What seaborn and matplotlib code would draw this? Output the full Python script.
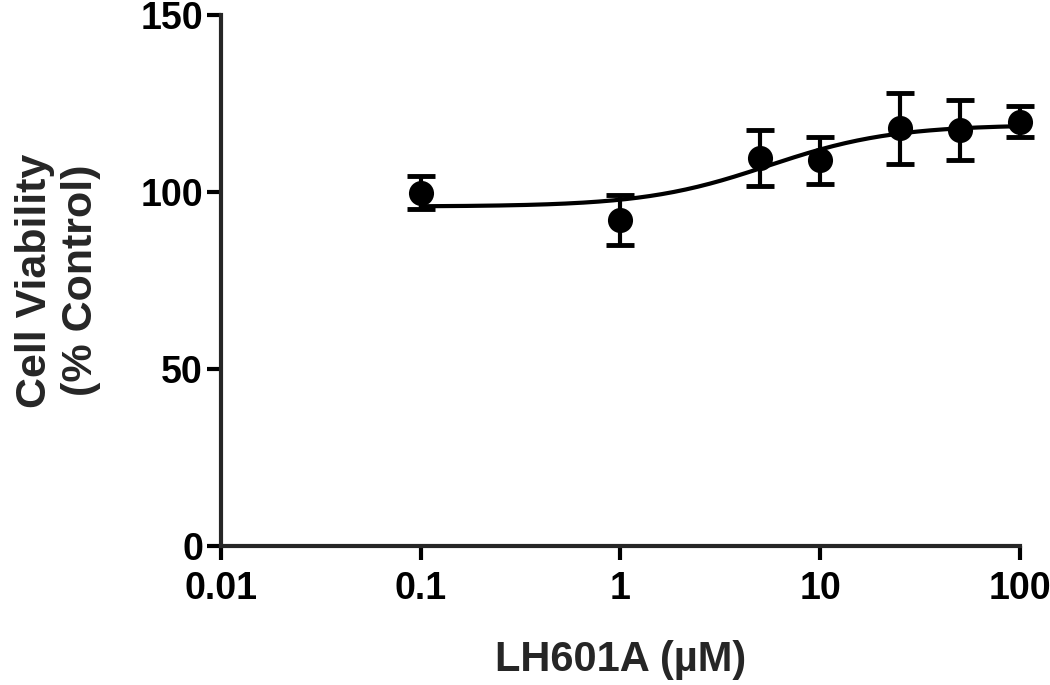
import seaborn as sns
import matplotlib.pyplot as plt
import numpy as np
import pandas as pd

# Data
conc = [0.1, 1, 5, 10, 25, 50, 100]          # LH601A (uM)
viability = [99.8, 92.1, 109.5, 109.0, 118.0, 117.5, 119.9]   # % control
sem = [4.7, 7.0, 7.9, 6.6, 10.0, 8.5, 4.4]

# 4-parameter logistic fit (bottom, top, EC50, hill) as drawn
fit_bottom = 95.9
fit_top = 119.0
fit_ec50 = 5.5
fit_hill = 1.4

sns.set_style("ticks")
plt.rcParams['font.family'] = ['Liberation Sans', 'DejaVu Sans']
plt.rcParams['font.weight'] = 'bold'

df = pd.DataFrame({'conc': conc, 'viability': viability, 'sem': sem})

xs = np.logspace(np.log10(min(conc)), np.log10(max(conc)), 200)
fit = pd.DataFrame({'conc': xs,
                    'viability': fit_bottom + (fit_top - fit_bottom) / (1 + (fit_ec50 / xs) ** fit_hill)})

fig = plt.figure(figsize=(10.5, 6.85), dpi=100)
ax = fig.add_axes([0.2105, 0.203, 0.7609, 0.775])

sns.lineplot(data=fit, x='conc', y='viability', color='black', linewidth=3, ax=ax)
ax.errorbar(df['conc'], df['viability'], yerr=df['sem'], fmt='none', ecolor='black',
            elinewidth=3, capsize=10, capthick=3.5, clip_on=False, zorder=3)
sns.scatterplot(data=df, x='conc', y='viability', color='black', s=280, edgecolor='black',
                ax=ax, zorder=4, clip_on=False)

ax.set_xscale('log')
ax.set_xlim(0.01, 100)
ax.set_ylim(0, 150)
ax.set_xticks([0.01, 0.1, 1, 10, 100])
ax.set_xticklabels(['0.01', '0.1', '1', '10', '100'])
ax.minorticks_off()
ax.set_yticks([0, 50, 100, 150])

for s in ['top', 'right']:
    ax.spines[s].set_visible(False)
for s in ['left', 'bottom']:
    ax.spines[s].set_linewidth(3)
ax.tick_params(axis='both', width=3, length=10, labelsize=27, colors='black')
ax.tick_params(axis='x', pad=8)
ax.tick_params(axis='y', pad=3)

ax.set_xlabel('LH601A (\u00b5M)', fontsize=30, fontweight='bold', labelpad=24)
ax.set_ylabel('Cell Viability\n(% Control)', fontsize=31, fontweight='bold', labelpad=28,
              linespacing=1.2)

fig.savefig('out.png', dpi=100)
